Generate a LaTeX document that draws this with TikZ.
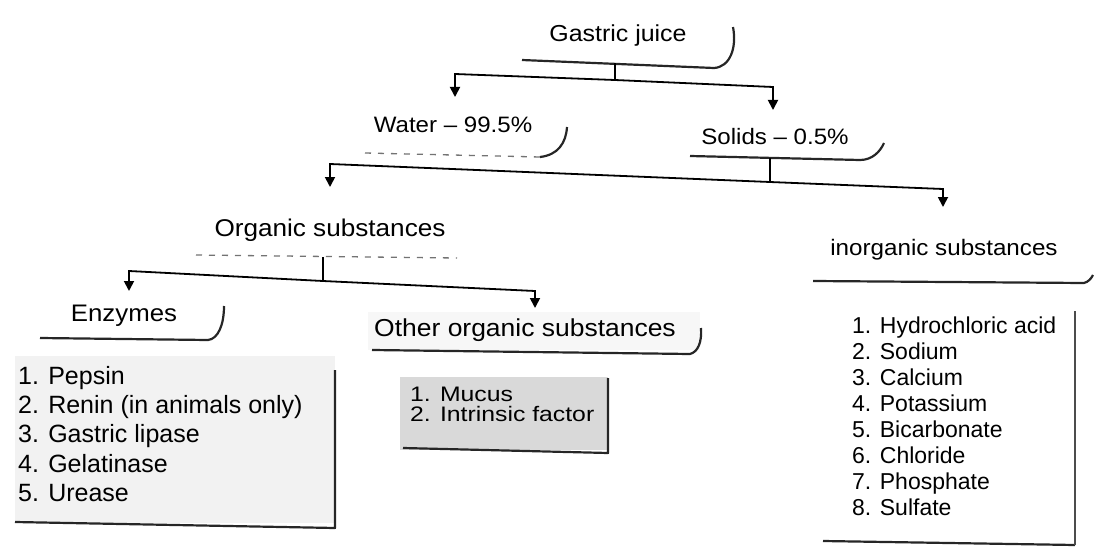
\documentclass[tikz,border=0pt]{standalone}
\usepackage{fontspec}
\setmainfont{Liberation Sans}
\newfontfamily\hf[FakeStretch=1.08]{Liberation Sans}
\newfontfamily\mf[FakeStretch=1.18]{Liberation Sans}
\usetikzlibrary{arrows.meta}
\begin{document}
\begin{tikzpicture}[x=1pt,y=-1pt,
  conn/.style={line width=1.8pt, black},
  arr/.style={conn, -{Triangle[width=10pt,length=10pt]}},
  uline/.style={line width=2.2pt, black!85, line join=round},
  faint/.style={line width=1.3pt, black!55, dash pattern=on 6pt off 7pt},
  head/.style={inner sep=0pt, text=black, font=\hf\fontsize{#1}{#1}\selectfont},
  listtext/.style 2 args={inner sep=0pt, anchor=west, align=left, text=black, font=\fontsize{#1}{#2}\selectfont},
  mucustext/.style={inner sep=0pt, anchor=west, align=left, text=black, font=\mf\fontsize{21}{20}\selectfont}
]
\useasboundingbox (0,0) rectangle (1096,551);

% light scan shading of the list boxes
\fill[gray!10] (15,356) rectangle (335,523);
\fill[gray!30] (400,377) rectangle (608,450);
\fill[gray!6] (368,312) rectangle (700,350);

% headings
\node[head=23.1] (gj) at (618,36) {Gastric juice};
\node[head=22.3] (water) at (453,125) {Water – 99.5\%};
\node[head=22.3] (solids) at (775,137) {Solids – 0.5\%};
\node[head=24.2] (org) at (330,230) {Organic substances};
\node[head=22.4] (inorg) at (944,250) {inorganic substances};
\node[head=23.9] (enz) at (124,316) {Enzymes};
\node[head=24.5] (oth) at (525,330) {Other organic substances};

% underlines with hooks
\draw[uline] (522,60) -- (714,68) .. controls (730,67) and (737,48) .. (733,27);
\draw[faint] (365,153) -- (540,157);
\draw[uline] (540,157) .. controls (558,155) and (566,143) .. (567,127);
\draw[uline] (690,156) -- (860,160) .. controls (872,160) and (880,152) .. (884,143);
\draw[faint] (196,255) -- (457,258);
\draw[uline] (813,281) -- (1084,283) .. controls (1088,282) and (1091,279) .. (1093,275);
\draw[uline] (40,338) -- (208,340) .. controls (218,339) and (224,325) .. (224,306);
\draw[uline] (372,350) -- (690,354) .. controls (698,352) and (702,342) .. (701,328);

% lists
\node[listtext={25}{29.25}] (enzl) at (18,434) {1. Pepsin\\2. Renin (in animals only)\\3. Gastric lipase\\4. Gelatinase\\5. Urease};
\node[mucustext] (othl) at (410,404) {1. Mucus\\2. Intrinsic factor};
\node[listtext={23}{26}] (inorgl) at (852,416) {1. Hydrochloric acid\\2. Sodium\\3. Calcium\\4. Potassium\\5. Bicarbonate\\6. Chloride\\7. Phosphate\\8. Sulfate};

% box edges (right and bottom)
\draw[uline] (15,522) -- (335,528) -- (335,370);
\draw[uline] (403,448) -- (608,453) -- (608,378);
\draw[uline] (823,541) -- (1075,545);
\draw[line width=1.5pt, black!70] (1075,545) -- (1075,311);

% connectors
\coordinate (gjs) at (615,63);
\coordinate (gjm) at (615,80);
\coordinate (gjL) at (455,74);
\coordinate (gjR) at (773,87);
\coordinate (waterT) at (455,97);
\coordinate (solidsT) at (773,110);
\draw[conn] (gjs) -- (gjm);
\draw[arr] (gjm) -- (gjL) -- (waterT);
\draw[arr] (gjm) -- (gjR) -- (solidsT);

\coordinate (sols) at (770,158);
\coordinate (solm) at (770,182);
\coordinate (solL) at (330,164);
\coordinate (solR) at (943,189);
\coordinate (orgT) at (330,187);
\coordinate (inorgT) at (943,207);
\draw[conn] (sols) -- (solm);
\draw[arr] (solm) -- (solL) -- (orgT);
\draw[arr] (solm) -- (solR) -- (inorgT);

\coordinate (orgs) at (323,257);
\coordinate (orgm) at (323,281);
\coordinate (orgL) at (129,271);
\coordinate (orgR) at (535,291);
\coordinate (enzT) at (129,291);
\coordinate (othT) at (535,308);
\draw[conn] (orgs) -- (orgm);
\draw[arr] (orgm) -- (orgL) -- (enzT);
\draw[arr] (orgm) -- (orgR) -- (othT);
\end{tikzpicture}
\end{document}
